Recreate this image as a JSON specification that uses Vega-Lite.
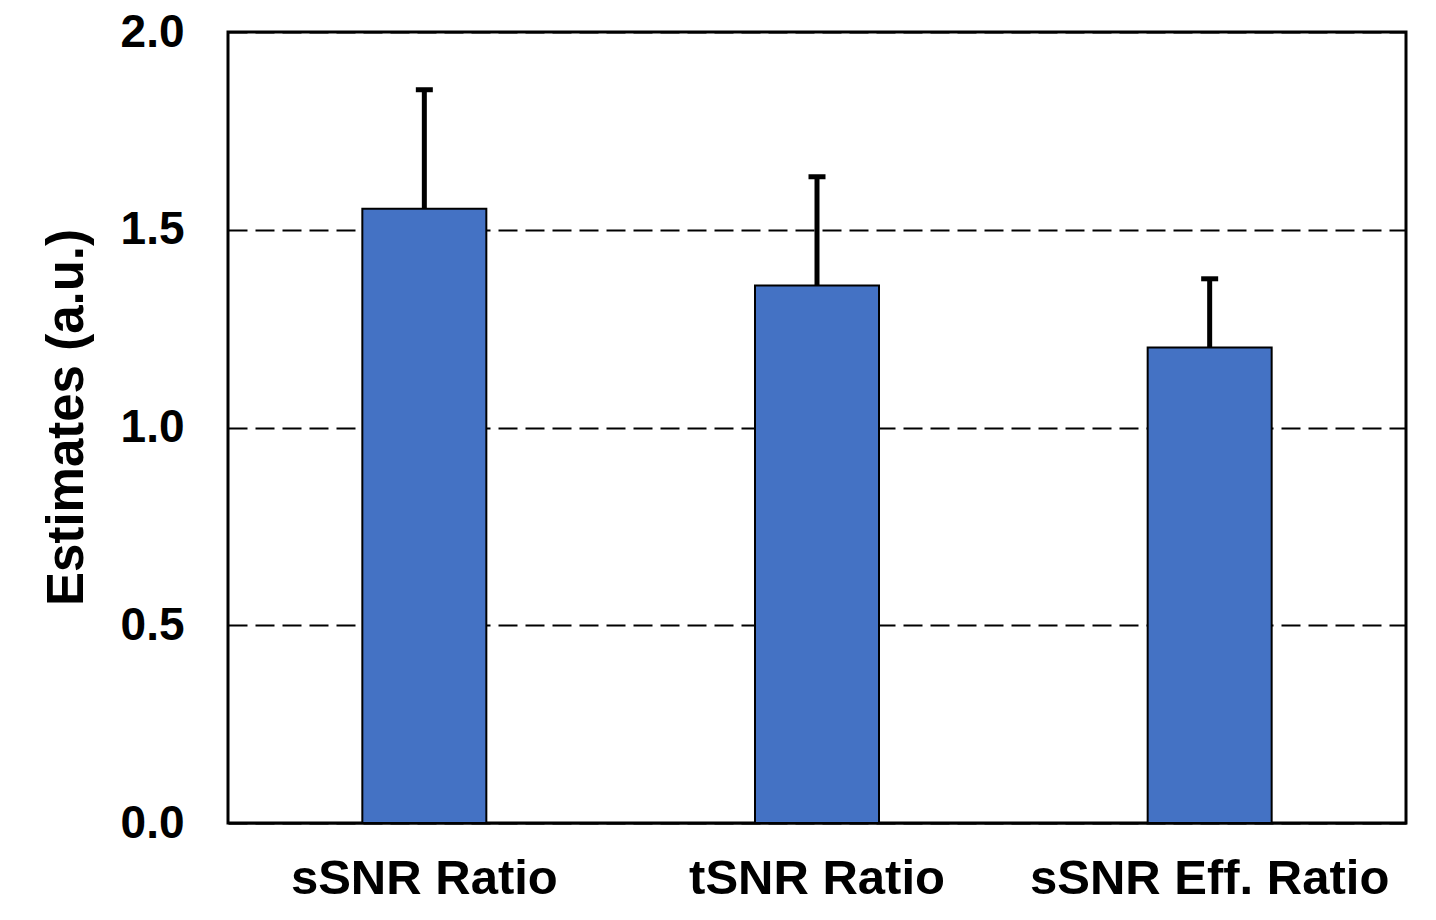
{
  "$schema": "https://vega.github.io/schema/vega-lite/v6.json",
  "autosize": "none",
  "width": 1178,
  "height": 791,
  "padding": {"left": 228, "top": 32, "right": 30, "bottom": 97},
  "background": "white",
  "config": {
    "view": {"stroke": "black", "strokeWidth": 3},
    "font": "Liberation Sans"
  },
  "data": {
    "values": [
      {"category": "sSNR Ratio", "value": 1.553, "upper": 1.854},
      {"category": "tSNR Ratio", "value": 1.359, "upper": 1.634},
      {"category": "sSNR Eff. Ratio", "value": 1.202, "upper": 1.376}
    ]
  },
  "encoding": {
    "x": {
      "field": "category",
      "type": "nominal",
      "sort": null,
      "scale": {"paddingInner": 0, "paddingOuter": 0},
      "axis": {
        "title": null,
        "labelAngle": 0,
        "labelFont": "Liberation Sans",
        "labelFontWeight": "bold",
        "labelFontSize": 49,
        "labelColor": "black",
        "labelPadding": 31,
        "labelLimit": 0,
        "ticks": false,
        "domainColor": "black",
        "domainWidth": 2,
        "grid": false
      }
    }
  },
  "layer": [
    {
      "mark": {"type": "bar", "size": 124, "color": "#4472C4", "stroke": "black", "strokeWidth": 2},
      "encoding": {
        "y": {
          "field": "value",
          "type": "quantitative",
          "scale": {"domain": [0, 2]},
          "axis": {
            "title": "Estimates (a.u.)",
            "titleFont": "Liberation Sans",
            "titleFontWeight": "bold",
            "titleFontSize": 51,
            "titleColor": "black",
            "titlePadding": 27,
            "titleY": 385,
            "values": [0, 0.5, 1, 1.5, 2],
            "format": ".1f",
            "labelFont": "Liberation Sans",
            "labelFontWeight": "bold",
            "labelFontSize": 46,
            "labelColor": "black",
            "labelPadding": 44,
            "ticks": false,
            "domain": false,
            "grid": true,
            "gridColor": "black",
            "gridWidth": 2,
            "gridDash": [19, 8],
            "gridOpacity": 1
          }
        }
      }
    },
    {
      "mark": {"type": "rule", "color": "black", "strokeWidth": 5},
      "encoding": {
        "y": {"field": "value", "type": "quantitative"},
        "y2": {"field": "upper"}
      }
    },
    {
      "mark": {"type": "tick", "color": "black", "size": 17, "thickness": 5, "opacity": 1},
      "encoding": {
        "y": {"field": "upper", "type": "quantitative"}
      }
    }
  ]
}
